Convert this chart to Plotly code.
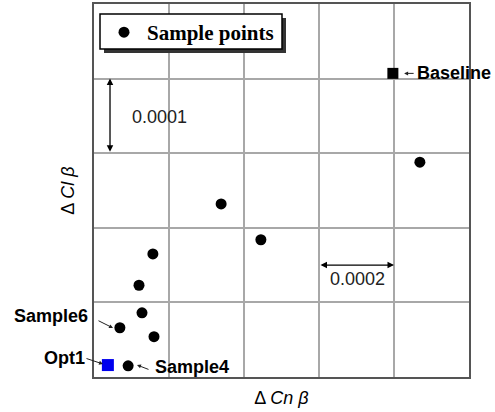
import plotly.graph_objects as go

# Data (units of the derivative deltas)
sample_x = [0.000869, 0.000339, 0.000445, 0.000157, 0.000120, 0.000128, 0.000069, 0.000160, 0.000091]
sample_y = [0.000288, 0.000232, 0.000184, 0.000165, 0.000123, 0.000086, 0.000066, 0.000054, 0.000015]
baseline_x = [0.000797]
baseline_y = [0.000407]
opt1_x = [0.000037]
opt1_y = [0.000016]

SANS = "Liberation Sans, Arial, sans-serif"
SERIF = "Liberation Serif, Times New Roman, serif"

L, R, T, B = 94, 26, 4, 35
W, H = 495, 412
PW, PH = W - L - R, H - T - B


def px(xp):
    return (xp - L) / PW


def py(yp):
    return (H - B - yp) / PH


fig = go.Figure()
fig.add_trace(go.Scatter(x=sample_x, y=sample_y, mode="markers", name="Sample points",
                         marker=dict(color="black", size=11, symbol="circle"), cliponaxis=False))
fig.add_trace(go.Scatter(x=baseline_x, y=baseline_y, mode="markers", name="Baseline", showlegend=False,
                         marker=dict(color="black", size=11, symbol="square"), cliponaxis=False))
fig.add_trace(go.Scatter(x=opt1_x, y=opt1_y, mode="markers", name="Opt1", showlegend=False,
                         marker=dict(color="#0000ee", size=12, symbol="square"), cliponaxis=False))

ann = []
# double-headed dimension arrows
ann.append(dict(x=0.0000427, y=0.0004, ax=0.0000427, ay=0.0003, xref="x", yref="y", axref="x", ayref="y",
                text="", showarrow=True, arrowhead=2, startarrowhead=2, arrowside="end+start",
                arrowsize=1, arrowwidth=1.3, arrowcolor="black"))
ann.append(dict(x=0.0008, y=0.00015, ax=0.0006, ay=0.00015, xref="x", yref="y", axref="x", ayref="y",
                text="", showarrow=True, arrowhead=2, startarrowhead=2, arrowside="end+start",
                arrowsize=1, arrowwidth=1.3, arrowcolor="black"))
ann.append(dict(x=px(130), y=py(117), xref="paper", yref="paper", text="0.0001", showarrow=False,
                xanchor="left", yanchor="middle", font=dict(family=SANS, size=18, color="#222")))
ann.append(dict(x=px(357), y=py(279), xref="paper", yref="paper", text="0.0002", showarrow=False,
                xanchor="center", yanchor="middle", font=dict(family=SANS, size=18, color="#222")))

# pointer arrows
for tx, ty, dx, dy in [(0.000827, 0.000407, 11, 0), (0.0000507, 0.0000657, -16, -8),
                       (0.000024, 0.0000174, -18, -6), (0.0001147, 0.0000161, 13, 5)]:
    ann.append(dict(x=tx, y=ty, ax=dx, ay=dy, xref="x", yref="y", text="", showarrow=True,
                    arrowhead=2, arrowsize=0.8, arrowwidth=1, arrowcolor="#222"))

lab_font = dict(family=SANS, size=18, color="black")
ann.append(dict(x=px(415), y=py(73), xref="paper", yref="paper", text="<b>Baseline</b>", showarrow=False,
                xanchor="left", yanchor="middle", font=lab_font))
ann.append(dict(x=px(90), y=py(316), xref="paper", yref="paper", text="<b>Sample6</b>", showarrow=False,
                xanchor="right", yanchor="middle", font=lab_font))
ann.append(dict(x=px(87), y=py(358), xref="paper", yref="paper", text="<b>Opt1</b>", showarrow=False,
                xanchor="right", yanchor="middle", font=lab_font))
ann.append(dict(x=px(153), y=py(367), xref="paper", yref="paper", text="<b>Sample4</b>", showarrow=False,
                xanchor="left", yanchor="middle", font=lab_font))

fig.update_layout(
    width=W, height=H,
    margin=dict(l=L, r=R, t=T, b=B),
    plot_bgcolor="white", paper_bgcolor="white",
    annotations=ann,
    showlegend=True,
    legend=dict(x=px(101), y=py(12), xanchor="left", yanchor="top",
                bgcolor="rgba(0,0,0,0)", borderwidth=0,
                font=dict(family=SERIF, size=21, color="black", weight="bold"),
                itemwidth=36),
    shapes=[dict(type="rect", xref="paper", yref="paper",
                 x0=px(104), x1=px(286), y0=py(53), y1=py(18),
                 fillcolor="#333", line=dict(width=0), layer="above"),
            dict(type="rect", xref="paper", yref="paper",
                 x0=px(100), x1=px(282), y0=py(49), y1=py(14),
                 fillcolor="white", line=dict(width=1.5, color="black"), layer="above")],
    xaxis=dict(range=[0, 0.001], dtick=0.0002, tick0=0, showticklabels=False, automargin=False,
               showgrid=True, gridcolor="#a8a8a8", gridwidth=1.5, zeroline=False,
               showline=True, linecolor="#555", linewidth=1.5, mirror=True,
               title=dict(text="Δ <i>Cn β</i>", font=dict(family=SANS, size=18, color="black"), standoff=14)),
    yaxis=dict(range=[0, 0.0005], dtick=0.0001, tick0=0, showticklabels=False, automargin=False,
               showgrid=True, gridcolor="#a8a8a8", gridwidth=1.5, zeroline=False,
               showline=True, linecolor="#555", linewidth=1.5, mirror=True,
               title=dict(text="Δ <i>Cl β</i>", font=dict(family=SANS, size=18, color="black"), standoff=13)),
)

fig.write_html("out.html", config={"displayModeBar": False},
               post_script="document.body.style.margin='0';")
